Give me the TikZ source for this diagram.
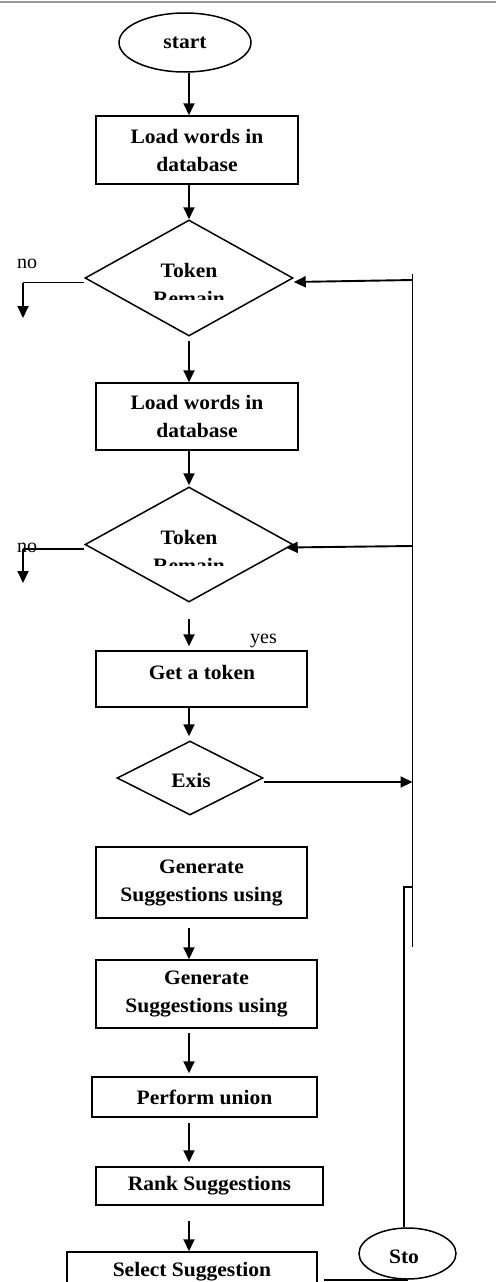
\documentclass[tikz,border=0pt]{standalone}
\usepackage{fontspec}
\setmainfont{Liberation Serif}[BoldFeatures={FakeStretch=1.05}]
\usetikzlibrary{shapes.geometric,arrows.meta}
\tikzset{
  txt/.style={font=\bfseries\fontsize{20.5}{28}\selectfont, align=center, inner sep=0pt},
  lbl/.style={font=\fontsize{20}{24}\selectfont, inner sep=0pt},
  box/.style={draw, line width=1.5pt, rectangle, inner sep=0pt, txt},
  dia/.style={draw, line width=1.5pt, diamond, inner sep=0pt, aspect=1.8},
  oval/.style={draw, line width=1.5pt, ellipse, inner sep=0pt, txt},
  arr/.style={line width=1.9pt, -{Triangle[length=12pt,width=11pt]}},
  ln/.style={line width=1.6pt}
}
\begin{document}
\begin{tikzpicture}[x=1pt,y=-1pt]
\useasboundingbox (0,0) rectangle (496,1282);
\clip (0,0) rectangle (496,1282);
\fill[white] (0,0) rectangle (496,1282);
\draw[gray!80, line width=1.5pt] (0,2) -- (496,2);

\coordinate (cx) at (189,0);
% nodes
\node[oval, minimum width=132pt, minimum height=59pt] (start) at (185,42.5) {start};
\node[box, minimum width=202pt, minimum height=68pt] (b1) at (197,150) {Load words in\\database};
\node[dia, minimum width=208pt, minimum height=116pt] (d1) at (189,278) {};
\begin{scope}
  \clip (100,230) rectangle (280,299);
  \node[txt] (t1) at (189,284) {Token\\Remain};
\end{scope}
\node[box, minimum width=202pt, minimum height=67pt] (b2) at (197,416.5) {Load words in\\database};
\node[dia, minimum width=208pt, minimum height=115pt] (d2) at (189,544.5) {};
\begin{scope}
  \clip (100,500) rectangle (280,565);
  \node[txt] (t2) at (189,551) {Token\\Remain};
\end{scope}
\node[box, minimum width=211pt, minimum height=56pt] (b3) at (201.5,679) {};
\node[txt] (b3t) at (202,672) {Get a token};
\node[dia, minimum width=146pt, minimum height=74pt] (d3) at (190,778) {};
\node[txt] (d3t) at (191,780) {Exis};
\node[box, minimum width=211pt, minimum height=71pt] (b4) at (201.5,882.5) {Generate\\Suggestions using};
\node[box, minimum width=221pt, minimum height=68pt] (b5) at (206.5,994) {Generate\\Suggestions using};
\node[box, minimum width=225pt, minimum height=40pt] (b6) at (204.5,1097) {Perform union};
\node[box, minimum width=227pt, minimum height=38pt] (b7) at (209.5,1186) {Rank Suggestions};
\node[box, minimum width=250pt, minimum height=48pt] (b8) at (192,1276) {};
\node[txt] (b8t) at (192,1272) {Select Suggestion};
\node[oval, minimum width=97pt, minimum height=51pt] (sto) at (407.5,1253.5) {};
\node[txt] (stot) at (404,1257) {Sto};

\node[lbl] (no1) at (27,263.5) {no};
\node[lbl] (no2) at (27,548) {no};
\node[lbl] (yes) at (263.5,641) {yes};

% main arrows
\draw[arr] (start.south -| cx) -- (b1.north -| cx);
\draw[arr] (b1.south -| cx) -- (d1.north);
\draw[arr] ([yshift=-4pt]d1.south) -- (b2.north -| cx);
\draw[arr] (b2.south -| cx) -- ([yshift=1pt]d2.north);
\draw[arr] ([yshift=-16pt]d2.south) -- ([yshift=4pt]b3.north -| cx);
\draw[arr] (b3.south -| cx) -- ([yshift=4pt]d3.north -| cx);
\draw[arr] ([yshift=-9pt]b4.south -| cx) -- (b5.north -| cx);
\draw[arr] ([yshift=-4pt]b5.south -| cx) -- ([yshift=3pt]b6.north -| cx);
\draw[arr] ([yshift=-5pt]b6.south -| cx) -- ([yshift=4pt]b7.north -| cx);
\draw[arr] ([yshift=-15pt]b7.south -| cx) -- (b8.north -| cx);

% no branches
\coordinate (n1) at (23,282.5);
\coordinate (n1e) at (23,318);
\draw[ln] ([yshift=-4.5pt]d1.west) -- (n1);
\draw[arr] (n1) -- (n1e);
\coordinate (n2) at (23,549);
\coordinate (n2e) at (23,583);
\draw[ln] ([yshift=-4.5pt]d2.west) -- (n2);
\draw[arr] (n2) -- (n2e);

% feedback line
\coordinate (vtop) at (412.5,274);
\coordinate (vbot) at (412.5,947);
\coordinate (f1) at (412.5,280);
\coordinate (f2) at (412.5,546);
\coordinate (f3) at (412.5,782);
\coordinate (jog) at (404,887);
\coordinate (jogr) at (412.5,887);
\draw[ln] (vtop) -- (vbot);
\draw[arr] (f1) -- ([yshift=-4pt]d1.east);
\draw[arr] (f2) -- ([xshift=-8pt,yshift=-3pt]d2.east);
\draw[arr] ([yshift=-4pt]d3.east) -- (f3);
\draw[ln] (sto.north -| jog) -- (jog) -- (jogr);
\draw[ln] ([xshift=6pt]b8.east |- sto.south) -- (sto.south);
\end{tikzpicture}
\end{document}
